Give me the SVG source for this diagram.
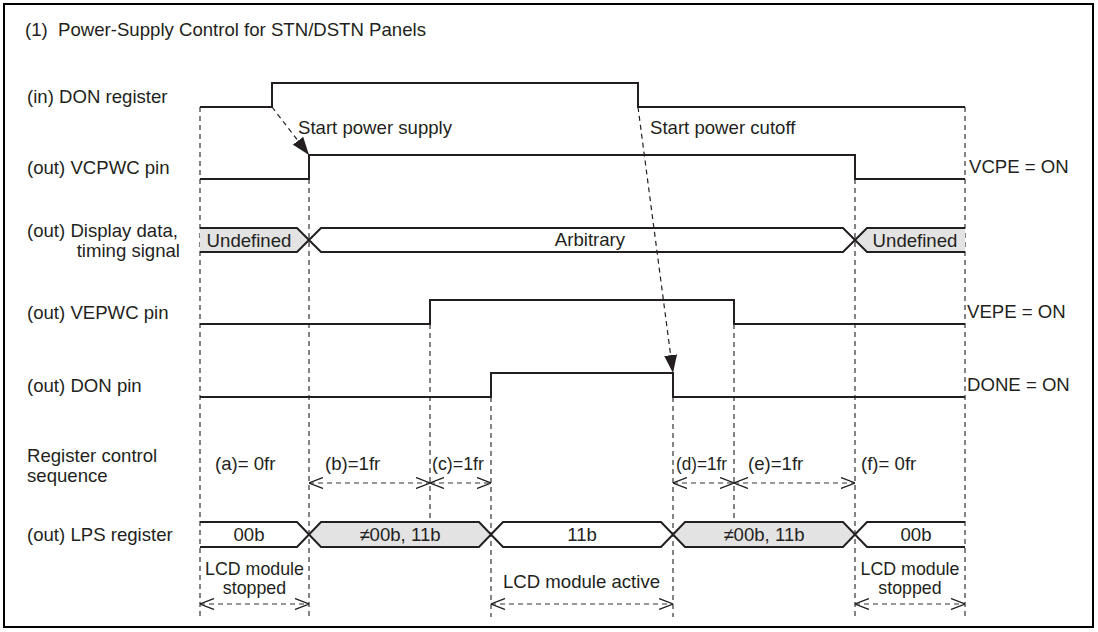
<svg xmlns="http://www.w3.org/2000/svg" width="1098" height="632" viewBox="0 0 1098 632">
<style>
.t{font-family:"Liberation Sans",Arial,sans-serif;font-size:18.6px;fill:#231f20}
.s{font-size:17.8px}
.m{text-anchor:middle}
.sig{fill:none;stroke:#231f20;stroke-width:2;stroke-linejoin:miter}
.dash{fill:none;stroke:#333;stroke-width:1.2;stroke-dasharray:5 4}
.grey{fill:#e3e3e3;stroke:none}
.darr{fill:none;stroke:#333;stroke-width:1.2;stroke-dasharray:5 4;marker-start:url(#open);marker-end:url(#open)}
.farr{fill:none;stroke:#231f20;stroke-width:1.2;stroke-dasharray:5 4;marker-end:url(#solid)}
</style>
<defs>
<marker id="open" viewBox="0 0 14 12" refX="14" refY="6" markerWidth="14" markerHeight="12" markerUnits="userSpaceOnUse" orient="auto-start-reverse">
<path d="M0,0.5 L14,6 L0,11.5" fill="none" stroke="#231f20" stroke-width="1.3"/>
</marker>
<marker id="solid" viewBox="0 0 18 13" refX="18" refY="6.5" markerWidth="18" markerHeight="13" markerUnits="userSpaceOnUse" orient="auto">
<path d="M0,0 L18,6.5 L0,13 Z" fill="#231f20"/>
</marker>
</defs>
<rect x="4" y="4" width="1089" height="623" fill="#fff" stroke="#000" stroke-width="2"/>
<text class="t" x="25" y="36" xml:space="preserve">(1)  Power-Supply Control for STN/DSTN Panels</text>

<g id="labels">
<text class="t" x="27" y="103">(in) DON register</text>
<text class="t" x="27" y="174">(out) VCPWC pin</text>
<text class="t" x="27" y="237">(out) Display data,</text>
<text class="t" x="180" y="257" text-anchor="end">timing signal</text>
<text class="t" x="27" y="319">(out) VEPWC pin</text>
<text class="t" x="27" y="392">(out) DON pin</text>
<text class="t" x="27" y="462">Register control</text>
<text class="t" x="27" y="482">sequence</text>
<text class="t" x="27" y="541">(out) LPS register</text>
</g>

<g id="connectors">
<path class="dash" d="M200,107 V617 M309,179 V617 M855,179 V617 M965,107 V617 M430,324 V522 M734,324 V522 M491,397 V617 M673,397 V617"/>
<line class="farr" x1="272" y1="107" x2="309" y2="155"/>
<line class="farr" x1="638" y1="107" x2="673" y2="373"/>
<line class="darr" x1="309" y1="483" x2="430" y2="483"/>
<line class="darr" x1="430" y1="483" x2="491" y2="483"/>
<line class="darr" x1="673" y1="483" x2="734" y2="483"/>
<line class="darr" x1="734" y1="483" x2="855" y2="483"/>
<line class="darr" x1="200" y1="604" x2="309" y2="604"/>
<line class="darr" x1="491" y1="604" x2="673" y2="604"/>
<line class="darr" x1="855" y1="604" x2="965" y2="604"/>
</g>

<g id="don-register">
<path class="sig" d="M200,107 H272 V83 H638 V107 H965"/>
<text class="t" x="298" y="134">Start power supply</text>
<text class="t" x="650" y="134">Start power cutoff</text>
</g>

<g id="vcpwc">
<path class="sig" d="M200,179 H309 V155 H855 V179 H965"/>
<text class="t" x="969" y="173">VCPE = ON</text>
</g>

<g id="display-data">
<path class="grey" d="M200,228 H297 L309,240 L297,252 H200 Z"/>
<path class="grey" d="M855,240 L867,228 H965 V252 H867 Z"/>
<path class="sig" d="M200,228 H297 L321,252 H843 L867,228 H965"/>
<path class="sig" d="M200,252 H297 L321,228 H843 L867,252 H965"/>
<text class="t m" x="249" y="247">Undefined</text>
<text class="t m" x="590" y="246">Arbitrary</text>
<text class="t m" x="915" y="247">Undefined</text>
</g>

<g id="vepwc">
<path class="sig" d="M200,324 H430 V300 H734 V324 H965"/>
<text class="t" x="967" y="318">VEPE = ON</text>
</g>

<g id="don-pin">
<path class="sig" d="M200,397 H491 V373 H673 V397 H965"/>
<text class="t" x="967" y="391">DONE = ON</text>
</g>

<g id="sequence">
<text class="t" x="215" y="470">(a)= 0fr</text>
<text class="t" x="325" y="470">(b)=1fr</text>
<text class="t" x="432" y="470" textLength="52" lengthAdjust="spacingAndGlyphs">(c)=1fr</text>
<text class="t" x="676" y="470" textLength="51" lengthAdjust="spacingAndGlyphs">(d)=1fr</text>
<text class="t" x="748" y="470">(e)=1fr</text>
<text class="t" x="861" y="470">(f)= 0fr</text>
</g>

<g id="lps-register">
<path class="grey" d="M309,534.5 L321,522 H479 L491,534.5 L479,547 H321 Z"/>
<path class="grey" d="M673,534.5 L685,522 H843 L855,534.5 L843,547 H685 Z"/>
<path class="sig" d="M200,522 H297 L321,547 H479 L503,522 H661 L685,547 H843 L867,522 H965"/>
<path class="sig" d="M200,547 H297 L321,522 H479 L503,547 H661 L685,522 H843 L867,547 H965"/>
<text class="t m" x="249" y="541">00b</text>
<text class="t m" x="400" y="541">≠00b, 11b</text>
<text class="t m" x="582" y="541">11b</text>
<text class="t m" x="764" y="541">≠00b, 11b</text>
<text class="t m" x="916" y="541">00b</text>
</g>

<g id="lcd-state">
<text class="t s m" x="254.5" y="575">LCD module</text>
<text class="t s m" x="254.5" y="594">stopped</text>
<text class="t m" x="581.5" y="588">LCD module active</text>
<text class="t s m" x="910" y="575">LCD module</text>
<text class="t s m" x="910" y="594">stopped</text>
</g>
</svg>
